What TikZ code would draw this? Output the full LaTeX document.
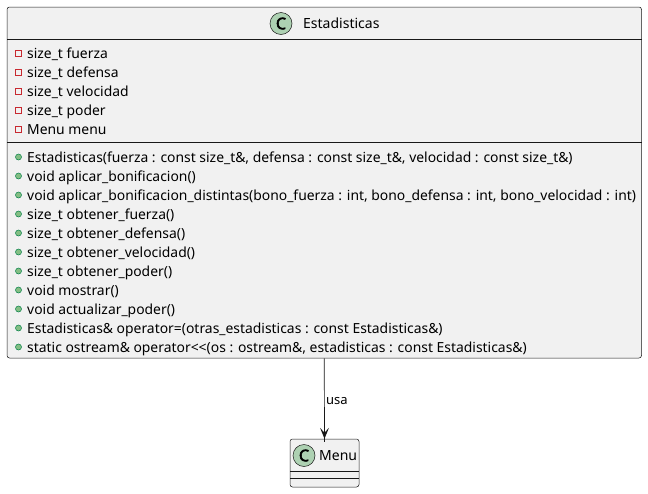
\documentclass[tikz,border=0pt]{standalone}
\usepackage{fontspec}
\setmainfont{Noto Sans}
\newfontfamily\cfont[FakeBold=3]{Noto Sans}
\definecolor{boxfill}{HTML}{F1F1F1}
\definecolor{boxline}{HTML}{181818}
\definecolor{cfill}{HTML}{ADD1B2}
\definecolor{privred}{HTML}{C82930}
\definecolor{pubfill}{HTML}{84BE84}
\definecolor{publine}{HTML}{038048}
\begin{document}
\begin{tikzpicture}[x=1pt,y=-1pt,
  classbox/.style={draw=boxline, fill=boxfill, line width=0.5pt, rounded corners=2.5pt, inner sep=0pt},
  sepline/.style={draw=boxline, line width=0.5pt},
  member/.style={anchor=base west, inner sep=0pt, font=\fontsize{13.9}{16}\selectfont},
  ctitle/.style={anchor=base west, inner sep=0pt, font=\fontsize{14}{16}\selectfont},
  cicon/.style={circle, draw=boxline, fill=cfill, line width=0.5pt, minimum size=22pt, inner sep=0pt, font=\fontsize{16}{16}\cfont},
  privicon/.style={draw=privred, line width=0.7pt, minimum size=5.5pt, inner sep=0pt},
  pubicon/.style={circle, draw=publine, fill=pubfill, line width=0.5pt, minimum size=6pt, inner sep=0pt},
  rel/.style={draw=boxline, line width=0.7pt},
  rellabel/.style={anchor=west, inner sep=0pt, font=\fontsize{13}{15}\selectfont}
]
\useasboundingbox (0,0) rectangle (648,493);
% main class
\node[classbox, minimum width=634.5pt, minimum height=351pt] (est) at (324.25,182.5) {};
\draw[sepline] (7,39) -- (641.5,39);
\draw[sepline] (7,142) -- (641.5,142);
\node[cicon] (estC) at (281,23.5) {C};
\node[ctitle] (estT) at (303,28.5) {Estadisticas};
% attributes
\foreach \t [count=\i] in {size\_t fuerza, size\_t defensa, size\_t velocidad, size\_t poder, Menu menu}{
  \node[privicon] (pa\i) at (18.5,53.5+19*\i-19) {};
  \node[member] (a\i) at (27,58+19*\i-19) {\t};
}
% methods
\foreach \t [count=\i] in {
  {Estadisticas(fuerza : const size\_t\&, defensa : const size\_t\&, velocidad : const size\_t\&)},
  {void aplicar\_bonificacion()},
  {void aplicar\_bonificacion\_distintas(bono\_fuerza : int, bono\_defensa : int, bono\_velocidad : int)},
  {size\_t obtener\_fuerza()},
  {size\_t obtener\_defensa()},
  {size\_t obtener\_velocidad()},
  {size\_t obtener\_poder()},
  {void mostrar()},
  {void actualizar\_poder()},
  {Estadisticas\& operator=(otras\_estadisticas : const Estadisticas\&)},
  {static ostream\& operator<{}<(os : ostream\&, estadisticas : const Estadisticas\&)}}{
  \node[pubicon] (pm\i) at (18.5,157+19*\i-19) {};
  \node[member] (m\i) at (27,162+19*\i-19) {\t};
}
% Menu class
\node[classbox, minimum width=69pt, minimum height=48pt] (menu) at (324.5,463) {};
\draw[sepline] (290,471) -- (359,471);
\draw[sepline] (290,478) -- (359,478);
\node[cicon] (menuC) at (304,455.5) {C};
\node[ctitle] (menuT) at (319,460.5) {Menu};
% relation
\draw[rel] (est.south) -- ([yshift=-3pt]menu.north);
\fill[boxline] (menu.north) -- ++(-4.5,-11) -- ++(4.5,5) -- ++(4.5,-5) -- cycle;
\node[rellabel] (usa) at (326,401) {usa};
\end{tikzpicture}
\end{document}
